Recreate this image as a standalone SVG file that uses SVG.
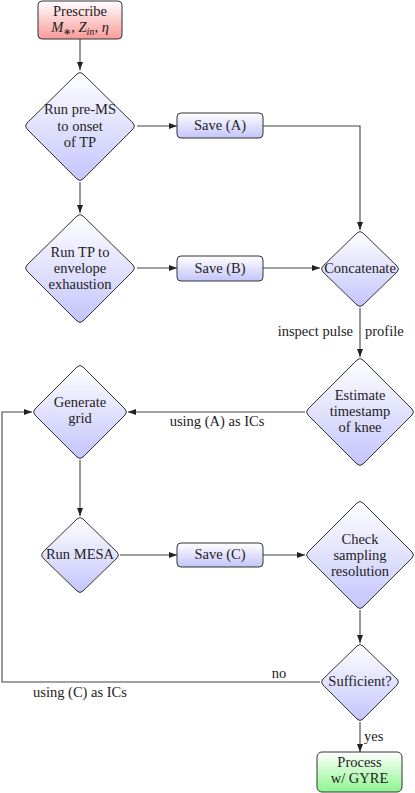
<svg xmlns="http://www.w3.org/2000/svg" width="415" height="793" viewBox="0 0 415 793">
<defs>
<linearGradient id="gBlue" x1="0" y1="0" x2="0" y2="1"><stop offset="0" stop-color="#ffffff"/><stop offset="1" stop-color="#c4c4fb"/></linearGradient>
<linearGradient id="gRed" x1="0" y1="0" x2="0" y2="1"><stop offset="0" stop-color="#ffffff"/><stop offset="1" stop-color="#f99a9a"/></linearGradient>
<linearGradient id="gGreen" x1="0" y1="0" x2="0" y2="1"><stop offset="0" stop-color="#ffffff"/><stop offset="1" stop-color="#8ef58e"/></linearGradient>
<marker id="arr" viewBox="0 0 8 6" refX="8" refY="3" markerWidth="8" markerHeight="6" markerUnits="userSpaceOnUse" orient="auto"><path d="M0,0 L8,3 L0,6 Z" fill="#222"/></marker>
</defs>
<style>
.t{font-family:"Liberation Serif","Times New Roman",serif;font-size:14.5px;fill:#222;text-anchor:middle}
.l{font-family:"Liberation Serif","Times New Roman",serif;font-size:14.5px;fill:#222}
.blue{fill:url(#gBlue);stroke:#333;stroke-width:1}
.red{fill:url(#gRed);stroke:#333;stroke-width:1}
.green{fill:url(#gGreen);stroke:#333;stroke-width:1}
.ca{fill:none;stroke:#444;stroke-width:1.1;marker-end:url(#arr)}
</style>
<g id="connectors">
<path class="ca" d="M80,39 V70"/>
<path class="ca" d="M137,126 H177"/>
<path class="ca" d="M263,126 H360 V230"/>
<path class="ca" d="M80,182 V213"/>
<path class="ca" d="M137,268 H177"/>
<path class="ca" d="M263,268 H320"/>
<path class="ca" d="M360,308 V357"/>
<path class="ca" d="M305,412 H128"/>
<path class="ca" d="M80,460 V516"/>
<path class="ca" d="M120,555 H177"/>
<path class="ca" d="M263,555 H305"/>
<path class="ca" d="M360,610 V643"/>
<path class="ca" d="M320,682 H2 V412 H32"/>
<path class="ca" d="M360,722 V752"/>
<text class="l" x="353" y="336" text-anchor="end">inspect pulse</text>
<text class="l" x="365" y="336">profile</text>
<text class="t" x="217" y="426">using (A) as ICs</text>
<text class="t" x="279" y="678">no</text>
<text class="t" x="80" y="697">using (C) as ICs</text>
<text class="l" x="364" y="741">yes</text>
</g>
<g id="prescribe">
<rect class="red" x="38" y="1" width="84" height="38" rx="4"/>
<text class="t" x="80" y="16">Prescribe</text>
<text class="t" x="80" y="32"><tspan font-style="italic">M</tspan><tspan font-size="10" dy="3">∗</tspan><tspan dy="-3">, </tspan><tspan font-style="italic">Z</tspan><tspan font-style="italic" font-size="10" dy="3">in</tspan><tspan dy="-3">, </tspan><tspan font-style="italic">η</tspan></text>
</g>
<g id="runpre">
<path class="blue" d="M77,74 Q80,71 83,74 L133,123 Q136,126 133,129 L83,179 Q80,182 77,179 L27,129 Q24,126 27,123 Z"/>
<text class="t" x="80" y="114">Run pre-MS</text>
<text class="t" x="80" y="131">to onset</text>
<text class="t" x="80" y="147">of TP</text>
</g>
<g id="saveA">
<rect class="blue" x="177" y="113" width="86" height="25" rx="4"/>
<text class="t" x="220" y="130">Save (A)</text>
</g>
<g id="runtp">
<path class="blue" d="M77,216 Q80,213 83,216 L133,265 Q136,268 133,271 L83,321 Q80,324 77,321 L27,271 Q24,268 27,265 Z"/>
<text class="t" x="80" y="257">Run TP to</text>
<text class="t" x="80" y="273">envelope</text>
<text class="t" x="80" y="289">exhaustion</text>
</g>
<g id="saveB">
<rect class="blue" x="177" y="256" width="86" height="25" rx="4"/>
<text class="t" x="220" y="273">Save (B)</text>
</g>
<g id="concatenate">
<path class="blue" d="M357,233 Q360,230 363,233 L397,266 Q400,269 397,272 L363,305 Q360,308 357,305 L323,272 Q320,269 323,266 Z"/>
<text class="t" x="360" y="273">Concatenate</text>
</g>
<g id="estimate">
<path class="blue" d="M357,360 Q360,357 363,360 L412,409 Q415,412 412,415 L363,464 Q360,467 357,464 L308,415 Q305,412 308,409 Z"/>
<text class="t" x="360" y="400">Estimate</text>
<text class="t" x="360" y="416">timestamp</text>
<text class="t" x="360" y="432">of knee</text>
</g>
<g id="generate">
<path class="blue" d="M77,367 Q80,364 83,367 L125,409 Q128,412 125,415 L83,457 Q80,460 77,457 L35,415 Q32,412 35,409 Z"/>
<text class="t" x="80" y="407">Generate</text>
<text class="t" x="80" y="423">grid</text>
</g>
<g id="runmesa">
<path class="blue" d="M77,519 Q80,516 83,519 L117,552 Q120,555 117,558 L83,591 Q80,594 77,591 L43,558 Q40,555 43,552 Z"/>
<text class="t" x="80" y="559">Run MESA</text>
</g>
<g id="saveC">
<rect class="blue" x="177" y="543" width="86" height="24" rx="4"/>
<text class="t" x="220" y="559">Save (C)</text>
</g>
<g id="check">
<path class="blue" d="M357,503 Q360,500 363,503 L412,552 Q415,555 412,558 L363,607 Q360,610 357,607 L308,558 Q305,555 308,552 Z"/>
<text class="t" x="360" y="544">Check</text>
<text class="t" x="360" y="560">sampling</text>
<text class="t" x="360" y="576">resolution</text>
</g>
<g id="sufficient">
<path class="blue" d="M357,646 Q360,643 363,646 L397,679 Q400,682 397,685 L363,719 Q360,722 357,719 L323,685 Q320,682 323,679 Z"/>
<text class="t" x="360" y="686">Sufficient?</text>
</g>
<g id="process">
<rect class="green" x="317" y="752" width="85" height="40" rx="5"/>
<text class="t" x="359.5" y="767">Process</text>
<text class="t" x="359.5" y="783">w/ GYRE</text>
</g>
</svg>
